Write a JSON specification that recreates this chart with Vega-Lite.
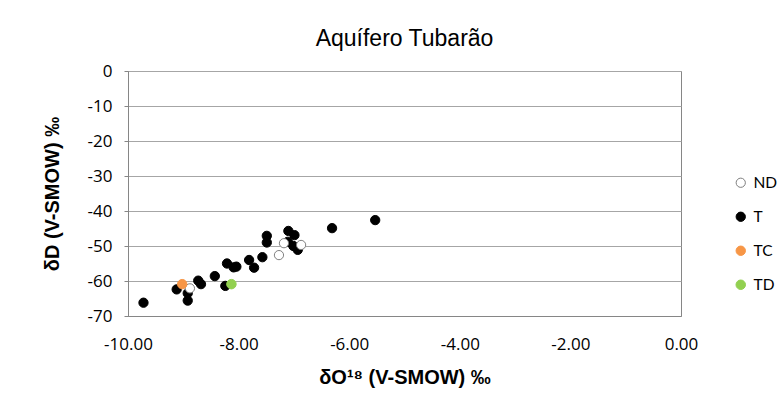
{
"$schema":"https://vega.github.io/schema/vega-lite/v6.json",
"width":553,"height":245,
"autosize":{"type":"none"},
"padding":{"left":128,"top":71,"right":102,"bottom":96},
"background":"white",
"title":{"text":"Aquífero Tubarão","font":"Liberation Sans","fontSize":23,"fontWeight":"normal","color":"#000000","offset":11,"anchor":"middle"},
"data":{"values":[
{"o18":-5.53,"d":-42.6,"type":"T"},
{"o18":-6.31,"d":-44.9,"type":"T"},
{"o18":-7.10,"d":-45.7,"type":"T"},
{"o18":-6.99,"d":-46.9,"type":"T"},
{"o18":-7.49,"d":-47.1,"type":"T"},
{"o18":-7.49,"d":-49.0,"type":"T"},
{"o18":-7.11,"d":-48.8,"type":"T"},
{"o18":-7.01,"d":-50.0,"type":"T"},
{"o18":-6.93,"d":-51.1,"type":"T"},
{"o18":-7.57,"d":-53.2,"type":"T"},
{"o18":-7.81,"d":-54.0,"type":"T"},
{"o18":-7.72,"d":-56.2,"type":"T"},
{"o18":-8.21,"d":-55.0,"type":"T"},
{"o18":-8.04,"d":-55.9,"type":"T"},
{"o18":-8.09,"d":-56.1,"type":"T"},
{"o18":-8.43,"d":-58.6,"type":"T"},
{"o18":-8.73,"d":-59.9,"type":"T"},
{"o18":-8.68,"d":-60.9,"type":"T"},
{"o18":-9.12,"d":-62.4,"type":"T"},
{"o18":-8.92,"d":-63.5,"type":"T"},
{"o18":-8.92,"d":-65.6,"type":"T"},
{"o18":-9.72,"d":-66.2,"type":"T"},
{"o18":-8.24,"d":-61.4,"type":"T"},
{"o18":-7.18,"d":-49.2,"type":"ND"},
{"o18":-6.87,"d":-49.7,"type":"ND"},
{"o18":-7.27,"d":-52.6,"type":"ND"},
{"o18":-8.88,"d":-62.1,"type":"ND"},
{"o18":-9.02,"d":-60.9,"type":"TC"},
{"o18":-8.13,"d":-60.9,"type":"TD"}
]},
"mark":{"type":"circle","opacity":1,"strokeWidth":1},
"encoding":{
"x":{"field":"o18","type":"quantitative","scale":{"domain":[-10,0],"nice":false,"zero":false,"padding":0},
 "axis":{"title":"δO¹⁸ (V-SMOW) ‰","values":[-10,-8,-6,-4,-2,0],"format":".2f","grid":false,"tickSize":0,"labelFlush":false,"labelPadding":20,"titlePadding":15}},
"y":{"field":"d","type":"quantitative","scale":{"domain":[-70,0],"nice":false,"zero":false,"padding":0},
 "axis":{"title":"δD (V-SMOW) ‰","values":[0,-10,-20,-30,-40,-50,-60,-70],"format":"d","grid":true,"tickSize":4,"labelFlush":false,"labelPadding":12,"titlePadding":25}},
"color":{"field":"type","type":"nominal","title":null,
 "scale":{"domain":["ND","T","TC","TD"],"range":["#ffffff","#000000","#F79646","#92D050"]},
 "legend":{"orient":"none","legendX":605,"legendY":104,"padding":0,"rowPadding":17,"labelOffset":5,"symbolSize":80,"symbolType":"circle","symbolStrokeWidth":1,"labelFont":"Lato","labelFontSize":15.5,"labelColor":"#000000"}},
"stroke":{"field":"type","type":"nominal","title":null,
 "scale":{"domain":["ND","T","TC","TD"],"range":["#7f7f7f","#000000","#F79646","#92D050"]}},
"size":{"field":"type","type":"nominal","legend":null,
 "scale":{"domain":["ND","T","TC","TD"],"range":[85,90,125,175]}}
},
"config":{
"locale":{"number":{"decimal":".","thousands":",","grouping":[3],"currency":["$",""],"minus":"-"}},
"view":{"stroke":"#868686","strokeWidth":1,"fill":"white"},
"axis":{"labelFont":"Open Sans","labelFontSize":17,"labelColor":"#000000","titleFont":"Liberation Sans","titleFontSize":20,"titleFontWeight":"bold","titleColor":"#000000","domainColor":"#868686","tickColor":"#868686","gridColor":"#a6a6a6","domainWidth":1,"gridWidth":1}
}
}
